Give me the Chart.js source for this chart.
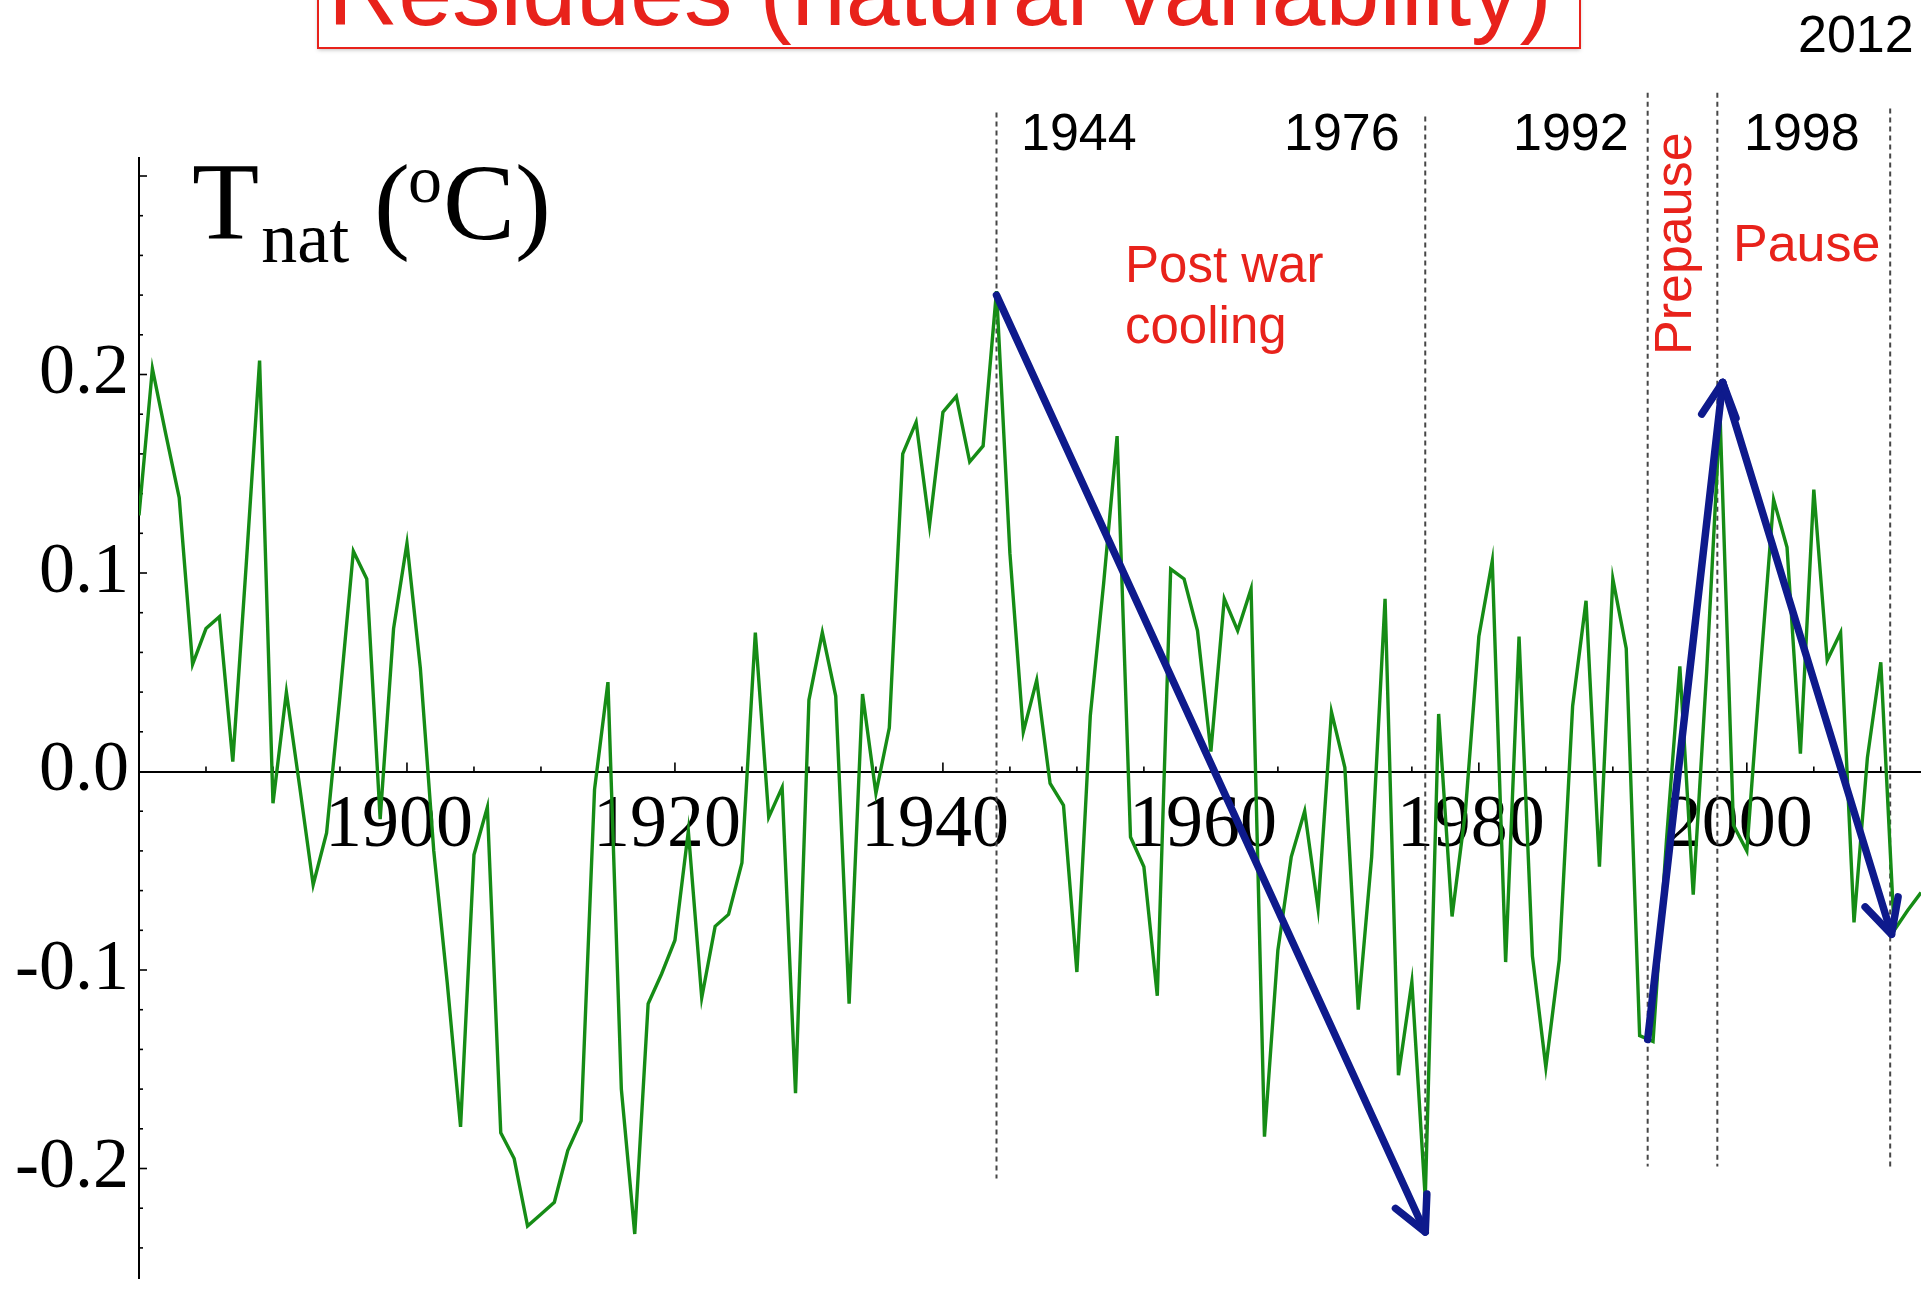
<!DOCTYPE html>
<html>
<head>
<meta charset="utf-8">
<script src="https://cdn.jsdelivr.net/npm/chart.js@4.4.1/dist/chart.umd.min.js"></script>
<style>
html,body{margin:0;padding:0;background:#fff;overflow:hidden}
#wrap{position:relative;width:1921px;height:1289px;background:#fff}
</style>
</head>
<body>
<div id="wrap"><canvas id="c" width="1921" height="1289"></canvas></div>
<script>
// ---------- data ----------
const years = [
 1880,1881,1882,1883,1884,1885,1886,1887,1888,1889,
 1890,1891,1892,1893,1894,1895,1896,1897,1898,1899,
 1900,1901,1902,1903,1904,1905,1906,1907,1908,1909,
 1910,1911,1912,1913,1914,1915,1916,1917,1918,1919,
 1920,1921,1922,1923,1924,1925,1926,1927,1928,1929,
 1930,1931,1932,1933,1934,1935,1936,1937,1938,1939,
 1940,1941,1942,1943,1944,1945,1946,1947,1948,1949,
 1950,1951,1952,1953,1954,1955,1956,1957,1958,1959,
 1960,1961,1962,1963,1964,1965,1966,1967,1968,1969,
 1970,1971,1972,1973,1974,1975,1976,1977,1978,1979,
 1980,1981,1982,1983,1984,1985,1986,1987,1988,1989,
 1990,1991,1992,1993,1994,1995,1996,1997,1998,1999,
 2000,2001,2002,2003,2004,2005,2006,2007,2008,2009,
 2010,2011,2012,2013
];
const tnat = [
 0.129, 0.203, 0.170, 0.138, 0.054, 0.072, 0.078, 0.005, 0.104, 0.207,
 -0.016, 0.040, -0.008, -0.057, -0.031, 0.038, 0.111, 0.097, -0.024, 0.072,
 0.115, 0.052, -0.040, -0.106, -0.179, -0.042, -0.018, -0.182, -0.195, -0.229,
 -0.223, -0.217, -0.191, -0.176, -0.009, 0.045, -0.160, -0.233, -0.117, -0.102,
 -0.085, -0.030, -0.114, -0.078, -0.072, -0.046, 0.070, -0.023, -0.008, -0.162,
 0.036, 0.070, 0.038, -0.117, 0.039, -0.011, 0.022, 0.160, 0.176, 0.124,
 0.181, 0.189, 0.156, 0.164, 0.242, 0.110, 0.020, 0.046, -0.006, -0.017,
 -0.101, 0.028, 0.095, 0.169, -0.033, -0.048, -0.113, 0.102, 0.097, 0.071,
 0.010, 0.087, 0.071, 0.092, -0.184, -0.090, -0.043, -0.020, -0.069, 0.030,
 0.002, -0.120, -0.043, 0.087, -0.153, -0.106, -0.215, 0.029, -0.073, -0.020,
 0.068, 0.106, -0.096, 0.068, -0.093, -0.149, -0.095, 0.033, 0.086, -0.048,
 0.097, 0.062, -0.133, -0.136, -0.035, 0.053, -0.062, 0.050, 0.180, -0.027,
 -0.040, 0.050, 0.137, 0.113, 0.009, 0.142, 0.056, 0.070, -0.076, 0.007,
 0.055, -0.080, -0.070, -0.061
];
const xTickLabels = ['1900','1920','1940','1960','1980','2000'];
const yTickLabels = ['-0.2','-0.1','0.0','0.1','0.2'];
const xMinorTicks = [1885,1890,1895,1900,1905,1910,1915,1920,1925,1930,1935,1940,1945,
                     1950,1955,1960,1965,1970,1975,1980,1985,1990,1995,2000,2005,2010];
const yMinorTicks = [-0.24,-0.22,-0.2,-0.18,-0.16,-0.14,-0.12,-0.1,-0.08,-0.06,-0.04,-0.02,
                     0.02,0.04,0.06,0.08,0.1,0.12,0.14,0.16,0.18,0.2,0.22,0.24,0.26,0.28,0.3];
// period markers (dashed verticals)
const markerYears  = [1944.0, 1976.0, 1992.6, 1997.8, 2010.7];
const markerTop    = [0.332, 0.330, 0.342, 0.342, 0.334];
const markerBottom = [-0.205, -0.232, -0.199, -0.199, -0.201];
const markerLabels = ['1944','1976','1992','1998','2012'];
// trend arrows
const arrowPostWarX   = [1944.0, 1976.0];
const arrowPostWarY   = [0.240, -0.232];
const arrowPrepauseX  = [1992.6, 1998.2];
const arrowPrepauseY  = [-0.135, 0.196];
const arrowPauseX     = [1998.2, 2010.8];
const arrowPauseY     = [0.196, -0.082];
const periodLabels = ['Post war', 'cooling', 'Prepause', 'Pause'];
const titleText = 'Residues (natural variability)';

// ---------- drawing ----------
const NAVY = 'rgb(14,26,140)';
const GREEN = 'rgb(22,140,22)';
const RED = 'rgb(232,34,27)';
const SANS = '"Liberation Sans", Arial, Helvetica, sans-serif';
const SERIF = '"Liberation Serif", "Times New Roman", Times, serif';

function pts(xs, ys) { return xs.map((x, i) => ({x: x, y: ys[i]})); }

const annot = {
  id: 'annot',
  beforeDatasetsDraw(chart) {
    const ctx = chart.ctx, xs = chart.scales.x, ys = chart.scales.y;
    const area = chart.chartArea;
    ctx.save();
    // dashed period markers
    ctx.strokeStyle = 'rgb(70,70,70)';
    ctx.lineWidth = 2;
    ctx.setLineDash([5, 4]);
    markerYears.forEach((yr, i) => {
      const x = xs.getPixelForValue(yr);
      ctx.beginPath();
      ctx.moveTo(x, ys.getPixelForValue(markerTop[i]));
      ctx.lineTo(x, ys.getPixelForValue(markerBottom[i]));
      ctx.stroke();
    });
    ctx.setLineDash([]);
    // x ticks (pointing up from axis)
    ctx.strokeStyle = '#000';
    ctx.lineWidth = 1.6;
    const y0 = ys.getPixelForValue(0);
    xMinorTicks.forEach(v => {
      const x = xs.getPixelForValue(v);
      const len = xTickLabels.indexOf(String(v)) >= 0 ? 9 : 5;
      ctx.beginPath(); ctx.moveTo(x, y0); ctx.lineTo(x, y0 - len); ctx.stroke();
    });
    // y ticks (pointing right from axis)
    yMinorTicks.forEach(v => {
      const y = ys.getPixelForValue(v);
      const major = Math.abs(Math.round(v * 100)) % 10 === 0;
      const len = major ? 8 : 4;
      ctx.beginPath(); ctx.moveTo(area.left, y); ctx.lineTo(area.left + len, y); ctx.stroke();
    });
    ctx.restore();
  },
  afterDatasetsDraw(chart) {
    const ctx = chart.ctx;
    ctx.save();
    chart.data.datasets.forEach((ds, i) => {
      if (!ds.arrow) return;
      const p = chart.getDatasetMeta(i).data;
      const a = p[p.length - 2], b = p[p.length - 1];
      const ang = Math.atan2(b.y - a.y, b.x - a.x);
      const L = 38, h = 27 * Math.PI / 180;
      ctx.strokeStyle = ds.borderColor;
      ctx.lineWidth = ds.borderWidth;
      ctx.lineCap = 'round';
      ctx.lineJoin = 'round';
      ctx.beginPath();
      ctx.moveTo(b.x - L * Math.cos(ang - h), b.y - L * Math.sin(ang - h));
      ctx.lineTo(b.x, b.y);
      ctx.lineTo(b.x - L * Math.cos(ang + h), b.y - L * Math.sin(ang + h));
      ctx.stroke();
    });
    ctx.restore();
  },
  afterDraw(chart) {
    const ctx = chart.ctx;
    ctx.save();
    // title box (cut off at top)
    ctx.save();
    ctx.shadowColor = 'rgba(0,0,0,0.25)';
    ctx.shadowBlur = 4;
    ctx.shadowOffsetY = 2;
    ctx.fillStyle = '#fff';
    ctx.fillRect(318, -80, 1262, 128);
    ctx.restore();
    ctx.strokeStyle = RED;
    ctx.lineWidth = 2;
    ctx.strokeRect(318, -80, 1262, 128);
    ctx.fillStyle = RED;
    ctx.font = '97px ' + SANS;
    ctx.textAlign = 'center';
    ctx.textBaseline = 'alphabetic';
    ctx.fillText(titleText, 940, 25);

    // marker year labels
    ctx.fillStyle = '#000';
    ctx.font = '52px ' + SANS;
    ctx.textAlign = 'left';
    const labelPos = [[1021, 150], [1284, 150], [1513, 150], [1744, 150], [1798, 52]];
    markerLabels.forEach((t, i) => ctx.fillText(t, labelPos[i][0], labelPos[i][1]));

    // period labels
    ctx.fillStyle = RED;
    ctx.font = '51px ' + SANS;
    ctx.fillText(periodLabels[0], 1125, 282);
    ctx.fillText(periodLabels[1], 1125, 343);
    ctx.font = '52px ' + SANS;
    ctx.fillText(periodLabels[3], 1733, 261);
    ctx.save();
    ctx.translate(1691, 355);
    ctx.rotate(-Math.PI / 2);
    ctx.fillText(periodLabels[2], 0, 0);
    ctx.restore();

    // axis title  T_nat (oC)
    ctx.fillStyle = '#000';
    let x = 192;
    ctx.font = '110px ' + SERIF;
    ctx.fillText('T', x, 239);
    x += ctx.measureText('T').width + 2;
    ctx.font = '72px ' + SERIF;
    ctx.fillText('nat', x, 262);
    x = 374;
    ctx.font = '108px ' + SERIF;
    ctx.fillText('(', x, 239);
    x += ctx.measureText('(').width - 2;
    ctx.font = '68px ' + SERIF;
    ctx.fillText('o', x, 202);
    x += ctx.measureText('o').width + 1;
    ctx.font = '108px ' + SERIF;
    ctx.fillText('C)', x, 239);
    ctx.restore();
  }
};

new Chart(document.getElementById('c').getContext('2d'), {
  type: 'line',
  data: {
    datasets: [
      {label: 'Post war cooling', data: pts(arrowPostWarX, arrowPostWarY), arrow: true,
       borderColor: NAVY, borderWidth: 7.5, pointRadius: 0, order: 0, borderCapStyle: 'round', clip: false},
      {label: 'Prepause', data: pts(arrowPrepauseX, arrowPrepauseY), arrow: true,
       borderColor: NAVY, borderWidth: 7.5, pointRadius: 0, order: 0, borderCapStyle: 'round', clip: false},
      {label: 'Pause', data: pts(arrowPauseX, arrowPauseY), arrow: true,
       borderColor: NAVY, borderWidth: 7.5, pointRadius: 0, order: 0, borderCapStyle: 'round', clip: false},
      {label: 'Tnat', data: pts(years, tnat),
       borderColor: GREEN, borderWidth: 3.4, pointRadius: 0, tension: 0, order: 1}
    ]
  },
  options: {
    responsive: false,
    animation: false,
    devicePixelRatio: 1,
    layout: {padding: {top: 158, bottom: 11, left: 0, right: 0}},
    plugins: {legend: {display: false}, tooltip: {enabled: false}, title: {display: false}},
    scales: {
      x: {
        type: 'linear', min: 1880, max: 2013, position: {y: 0},
        grid: {display: true, drawOnChartArea: false, drawTicks: false},
        border: {display: true, color: '#000', width: 2},
        afterBuildTicks: s => { s.ticks = xTickLabels.map(l => ({value: Number(l)})); },
        afterFit: s => { s.paddingLeft = 0; s.paddingRight = 0; },
        ticks: {
          autoSkip: false, maxRotation: 0, minRotation: 0, padding: 11, labelOffset: -8,
          color: '#000', font: {family: SERIF, size: 74},
          callback: (v, i) => xTickLabels[i]
        }
      },
      y: {
        type: 'linear', min: -0.25516, max: 0.30907, position: 'left',
        grid: {display: true, drawOnChartArea: false, drawTicks: false},
        border: {display: true, color: '#000', width: 2},
        afterBuildTicks: s => { s.ticks = yTickLabels.map(l => ({value: parseFloat(l)})); },
        afterFit: s => { s.width = 139; s.paddingTop = 0; s.paddingBottom = 0; },
        ticks: {
          padding: 10, color: '#000', font: {family: SERIF, size: 72},
          callback: (v, i) => yTickLabels[i]
        }
      }
    }
  },
  plugins: [annot]
});
</script>
</body>
</html>
